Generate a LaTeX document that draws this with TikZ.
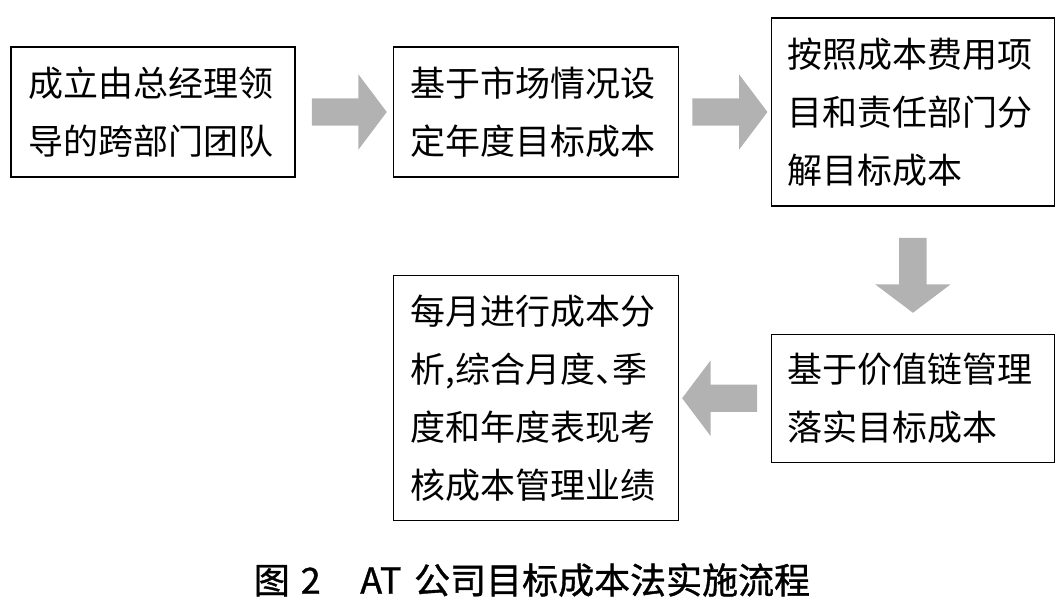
\documentclass[tikz,border=0pt]{standalone}
\usepackage{fontspec}
\usepackage{tikz}
\usetikzlibrary{positioning, calc, shapes.arrows}
\newfontfamily\cjk{Noto Sans CJK SC}
\newfontfamily\capfont[FakeBold=1]{Noto Sans CJK SC}

\tikzset{
  stepbox/.style={draw, line width=1.2pt, inner sep=0pt, text width=250pt, align=left,
    font=\cjk\fontsize{35}{58}\selectfont},
  blockarrow/.style={single arrow, fill=gray!60, draw=none, inner xsep=0pt, inner ysep=13.5pt,
    minimum height=75pt, single arrow head extend=24pt, single arrow tip angle=106},
}

\begin{document}
\begin{tikzpicture}[x=1pt, y=-1pt]
  \useasboundingbox (0,0) rectangle (1062,614);
  \node[stepbox, minimum width=284pt, minimum height=130pt] (found) at (153,112) {成立由总经理领\\导的跨部门团队};
  \node[stepbox, minimum width=285pt, minimum height=130pt, right=97pt of found] (setgoal) {基于市场情况设\\定年度目标成本};
  \node[stepbox, minimum width=283pt, minimum height=188pt, right=92pt of setgoal] (split) {按照成本费用项\\目和责任部门分\\解目标成本};
  \node[stepbox, minimum width=283pt, minimum height=128pt, below=127pt of split] (chain) {基于价值链管理\\落实目标成本};
  \node[stepbox, minimum width=285pt, minimum height=245pt, left=92pt of chain] (review) {每月进行成本分\\析,综合月度\makebox[0.5em][l]{、}季\\度和年度表现考\\核成本管理业绩};

  % block arrows between the steps
  \node[blockarrow] (a1) at ($(found.east)!0.5!(setgoal.west)$) {};
  \node[blockarrow] (a2) at ($(setgoal.east)!0.5!(split.west)$) {};
  \node[blockarrow, rotate=-90] (a3) at ($(split.south)!0.5!(chain.north)$) {};
  \node[blockarrow, rotate=180] (a4) at ($(chain.west)!0.5!(review.east)$) {};

  \node[font=\capfont\fontsize{36}{40}\selectfont] (caption) at (532,580) {图\hspace{0.3em}2\hspace{1.1em}AT\hspace{0.35em}公司目标成本法实施流程};
\end{tikzpicture}
\end{document}
